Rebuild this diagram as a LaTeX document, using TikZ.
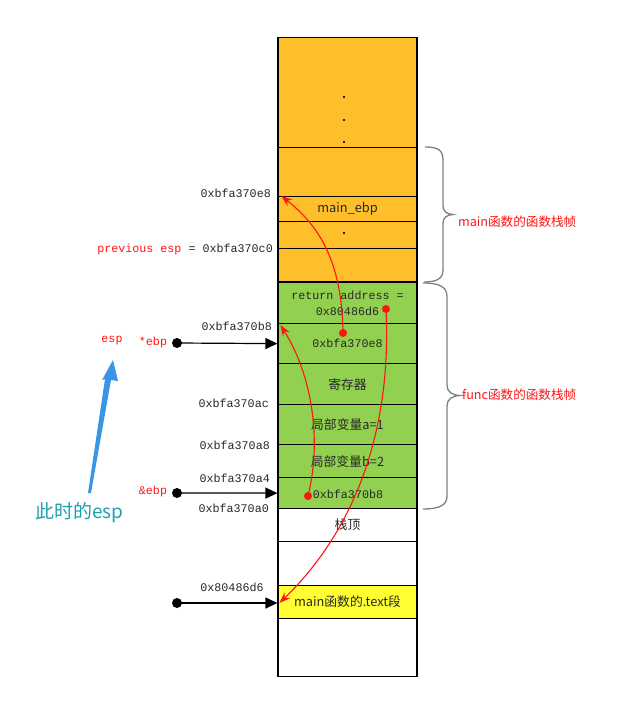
\documentclass[tikz,border=0pt]{standalone}
\usepackage{fontspec}
\setmainfont{Noto Sans CJK SC}
\newfontfamily\monof{Liberation Mono}
\usetikzlibrary{arrows.meta}
\definecolor{orng}{RGB}{255,191,43}
\definecolor{grn}{RGB}{146,208,80}
\definecolor{ylw}{RGB}{255,255,51}
\definecolor{bluea}{RGB}{58,150,228}
\definecolor{teal2}{RGB}{30,160,176}
\definecolor{brc}{RGB}{128,128,128}
\definecolor{txt}{RGB}{40,40,40}
\definecolor{redc}{RGB}{255,20,20}
\begin{document}
\begin{tikzpicture}[x=1pt,y=-1pt,
  cell/.style={draw=black, line width=1.2pt, minimum width=139pt, inner sep=0pt, anchor=north, font=\fontsize{12.8}{14}\selectfont, text=txt},
  mono/.style={font=\monof\fontsize{11.7}{16}\selectfont},
  lab/.style={mono, anchor=east, inner sep=0pt, text=txt},
  redlab/.style={mono, inner sep=0pt, text=redc},
  blackdot/.style={circle, fill=black, inner sep=0pt, minimum size=10pt},
  reddot/.style={circle, fill=redc, inner sep=0pt, minimum size=8pt},
  ptr/.style={line width=1.2pt, -{Triangle[length=12pt,width=11pt]}},
  redarrow/.style={draw=redc, line width=1.1pt, -{Stealth[length=11pt,width=8pt]}},
  bracestyle/.style={draw=brc, line width=1.3pt},
  bracelab/.style={anchor=west, inner sep=0pt, text=redc, font=\fontsize{12.6}{14}\selectfont},
  sqdot/.style={fill=txt, inner sep=0pt, minimum size=2.5pt}
]
\useasboundingbox (0,0) rectangle (643,706);
% cells
\node[cell, fill=orng, minimum height=110pt] (c1) at (347.5,37) {};
\node[cell, fill=orng, minimum height=49pt] (c2) at (347.5,147) {};
\node[cell, fill=orng, minimum height=25pt] (c3) at (347.5,196) {main\_ebp};
\node[cell, fill=orng, minimum height=27pt] (c4) at (347.5,221) {};
\node[cell, fill=orng, minimum height=34pt] (c5) at (347.5,248) {};
\node[cell, fill=grn, minimum height=41pt, mono, align=center] (c6) at (347.5,282) {return address =\\0x80486d6};
\node[cell, fill=grn, minimum height=40pt, mono] (c7) at (347.5,323) {0xbfa370e8};
\node[cell, fill=grn, minimum height=41pt] (c8) at (347.5,363) {寄存器};
\node[cell, fill=grn, minimum height=40pt] (c9) at (347.5,404) {局部变量a=1};
\node[cell, fill=grn, minimum height=33pt] (c10) at (347.5,444) {局部变量b=2};
\node[cell, fill=grn, minimum height=31pt] (c11) at (347.5,477) {};
\node[cell, fill=white, minimum height=33pt] (c12) at (347.5,508) {栈顶};
\node[cell, fill=white, minimum height=44pt] (c13) at (347.5,541) {};
\node[cell, fill=ylw, minimum height=33pt] (c14) at (347.5,585) {main函数的.text段};
\node[cell, fill=white, minimum height=58pt] (c15) at (347.5,618) {};
\draw[line width=2.6pt] (c6.north west) -- (c6.north east);
% inner texts / dots
\node[mono, text=txt, inner sep=0pt] (t11) at (348,494) {0xbfa370b8};
\node[sqdot] (q1) at (344,97) {};
\node[sqdot] (q2) at (344,120) {};
\node[sqdot] (q3) at (344,142) {};
\node[sqdot] (q4) at (344,233) {};
% left labels
\node[lab] (l1) at (271,193) {0xbfa370e8};
\node[lab] (l2) at (273,249) {{\color{redc}previous esp} = 0xbfa370c0};
\node[lab] (l3) at (272,326) {0xbfa370b8};
\node[redlab] (l4) at (112,341) {esp};
\node[redlab] (l5) at (153,342) {*ebp};
\node[lab] (l6) at (269,403) {0xbfa370ac};
\node[lab] (l7) at (270,445) {0xbfa370a8};
\node[lab] (l8) at (270,478) {0xbfa370a4};
\node[redlab] (l9) at (153,491) {\&ebp};
\node[lab] (l10) at (269,508) {0xbfa370a0};
\node[mono, text=txt, inner sep=0pt] (l11) at (232,587) {0x80486d6};
% black pointers
\node[blackdot] (b1) at (177,343) {};
\node[blackdot] (b2) at (177,493) {};
\node[blackdot] (b3) at (177,603) {};
\draw[ptr] (b1.center) -- (c7.west);
\draw[ptr] (b2.center) -- (c11.west);
\draw[ptr] (b3.center) -- (b3.center -| c14.west);
% red pointers
\node[reddot] (d1) at (343,333) {};
\node[reddot] (d2) at (386,309) {};
\node[reddot] (d3) at (308,496) {};
\draw[redarrow] (d1.center) .. controls (342,260) and (318,225) .. ([xshift=4pt]c3.north west);
\draw[redarrow] (d2.center) .. controls (392,430) and (355,530) .. ([xshift=2pt]b3.center -| c14.west);
\draw[redarrow] (d3.center) .. controls (322,440) and (312,375) .. ([xshift=3pt,yshift=-2pt]c7.north west);
% braces
\draw[bracestyle] (425,147) .. controls (438,147) and (443,150) .. (443,160) -- (443,205) .. controls (443,212) and (447,214) .. (453,214.5) .. controls (447,215) and (443,217) .. (443,224) -- (443,270) .. controls (443,279) and (436,282) .. (424,282);
\draw[bracestyle] (423,283) .. controls (440,283) and (447,287) .. (447,297) -- (447,385) .. controls (447,392) and (452,395) .. (460,395.5) .. controls (452,396) and (447,399) .. (447,406) -- (447,496) .. controls (447,505) and (440,509) .. (423,509);
\node[bracelab] (m1) at (458,222) {main函数的函数栈帧};
\node[bracelab] (m2) at (462,395) {func函数的函数栈帧};
% blue arrow
\fill[bluea] (88,493) -- (105,379) -- (102,380) -- (113,360) -- (118,381) -- (111,380) -- (91,493) -- cycle;
\node[text=teal2, inner sep=0pt, anchor=west, font=\fontsize{19}{22}\selectfont] (note) at (35,513) {此时的esp};
\end{tikzpicture}
\end{document}
